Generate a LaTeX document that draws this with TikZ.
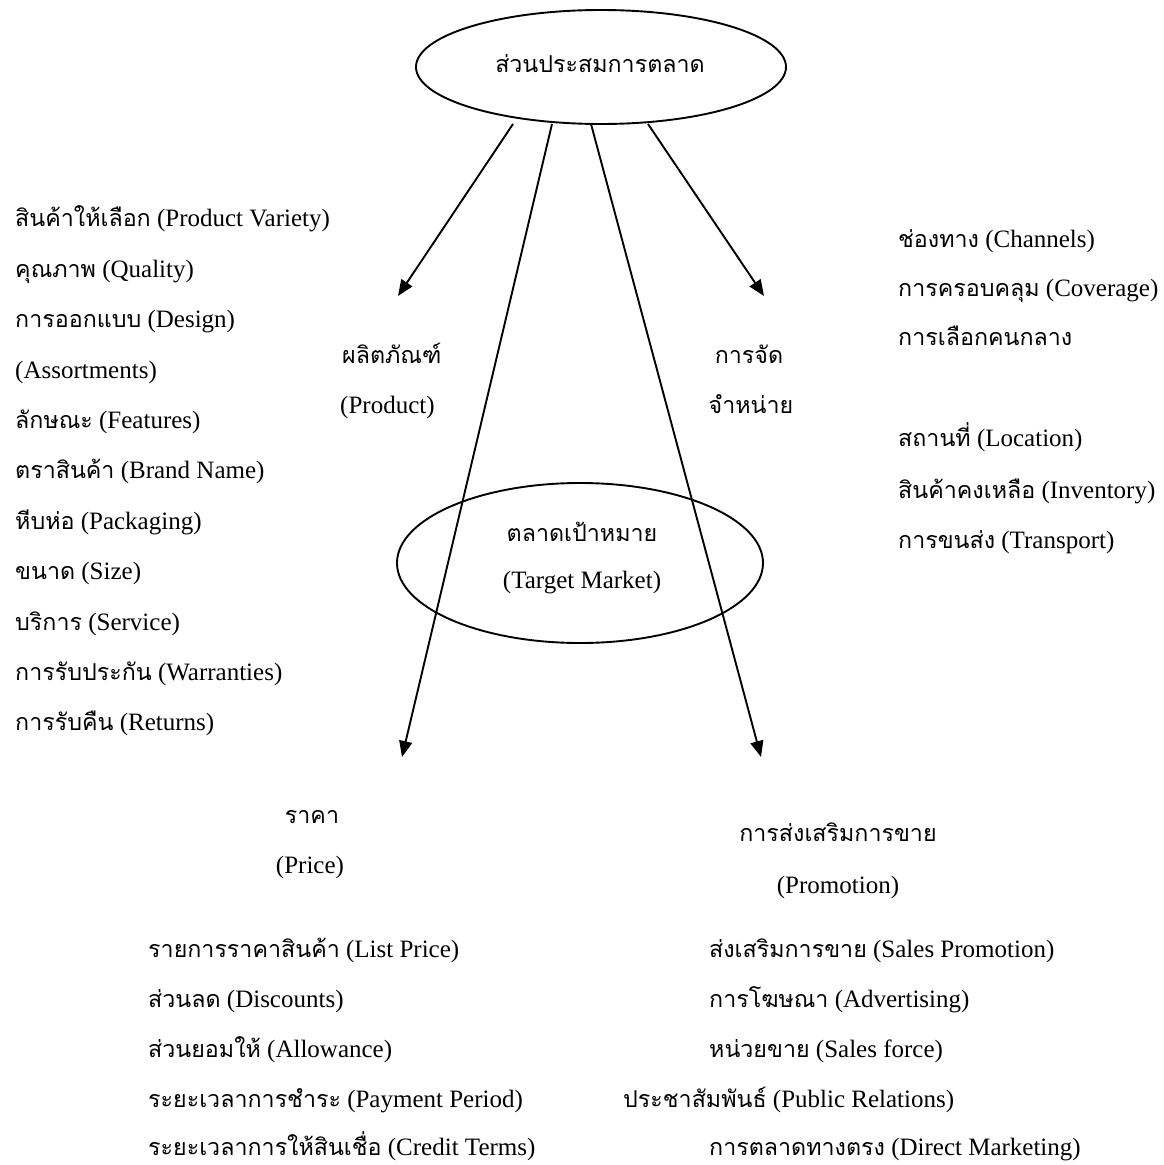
\documentclass[tikz,border=0pt]{standalone}
\usepackage{fontspec}
\setmainfont{Liberation Serif}
\newfontfamily\thaifont[Script=Thai,Scale=0.93]{Loma}
\newcommand{\T}[1]{{\thaifont #1}}
\usetikzlibrary{shapes.geometric,arrows.meta}
\begin{document}
\begin{tikzpicture}[x=1pt,y=-1pt,
  txt/.style={inner sep=0pt,font=\fontsize{25}{30}\selectfont},
  lft/.style={txt,anchor=base west},
  ctr/.style={txt,anchor=base},
  oval/.style={draw,line width=1.9pt,ellipse,inner sep=0pt},
  arr/.style={line width=1.9pt,-{Triangle[length=16pt,width=13pt]}}]
\useasboundingbox (0,0) rectangle (1163,1165);
% ellipses
\node[oval,minimum width=370pt,minimum height=114pt] (mix) at (601,67) {};
\node[ctr] (mixt) at (600,72) {\T{ส่วนประสมการตลาด}};
\node[oval,minimum width=366pt,minimum height=160pt] (tm) at (580,563) {};
\node[ctr] (tm1) at (582,541) {\T{ตลาดเป้าหมาย}};
\node[ctr] (tm2) at (582,588) {(Target Market)};
% arrow coordinates
\coordinate (s1) at (513,124); \coordinate (e1) at (398,296);
\coordinate (s2) at (552,124); \coordinate (e2) at (402,757);
\coordinate (s3) at (591,124); \coordinate (e3) at (761,757);
\coordinate (s4) at (648,124); \coordinate (e4) at (764,296);
\draw[arr] (s1) -- (e1);
\draw[arr] (s2) -- (e2);
\draw[arr] (s3) -- (e3);
\draw[arr] (s4) -- (e4);
% product
\node[lft] (prod1) at (342,363) {\T{ผลิตภัณฑ์}};
\node[lft] (prod2) at (340,413) {(Product)};
\node[ctr] (pl1) at (749,363) {\T{การจัด}};
\node[ctr] (pl2) at (751,413) {\T{จำหน่าย}};
% left list
\node[lft] (a1) at (15,226) {\T{สินค้าให้เลือก} (Product Variety)};
\node[lft] (a2) at (15,277) {\T{คุณภาพ} (Quality)};
\node[lft] (a3) at (15,327) {\T{การออกแบบ} (Design)};
\node[lft] (a4) at (15,378) {(Assortments)};
\node[lft] (a5) at (15,428) {\T{ลักษณะ} (Features)};
\node[lft] (a6) at (15,478) {\T{ตราสินค้า} (Brand Name)};
\node[lft] (a7) at (15,529) {\T{หีบห่อ} (Packaging)};
\node[lft] (a8) at (15,579) {\T{ขนาด} (Size)};
\node[lft] (a9) at (15,630) {\T{บริการ} (Service)};
\node[lft] (a10) at (15,680) {\T{การรับประกัน} (Warranties)};
\node[lft] (a11) at (15,730) {\T{การรับคืน} (Returns)};
% right list
\node[lft] (b1) at (898,247) {\T{ช่องทาง} (Channels)};
\node[lft] (b2) at (898,296) {\T{การครอบคลุม} (Coverage)};
\node[lft] (b3) at (898,345) {\T{การเลือกคนกลาง}};
\node[lft] (b4) at (898,446) {\T{สถานที่} (Location)};
\node[lft] (b5) at (898,498) {\T{สินค้าคงเหลือ} (Inventory)};
\node[lft] (b6) at (898,548) {\T{การขนส่ง} (Transport)};
% price
\node[ctr] (pr1) at (312,823) {\T{ราคา}};
\node[ctr] (pr2) at (310,873) {(Price)};
\node[lft] (c1) at (148,957) {\T{รายการราคาสินค้า} (List Price)};
\node[lft] (c2) at (148,1007) {\T{ส่วนลด} (Discounts)};
\node[lft] (c3) at (148,1057) {\T{ส่วนยอมให้} (Allowance)};
\node[lft] (c4) at (148,1107) {\T{ระยะเวลาการชำระ} (Payment Period)};
\node[lft] (c5) at (148,1155) {\T{ระยะเวลาการให้สินเชื่อ} (Credit Terms)};
% promotion
\node[ctr] (pm1) at (838,841) {\T{การส่งเสริมการขาย}};
\node[ctr] (pm2) at (838,893) {(Promotion)};
\node[lft] (d1) at (709,957) {\T{ส่งเสริมการขาย} (Sales Promotion)};
\node[lft] (d2) at (709,1007) {\T{การโฆษณา} (Advertising)};
\node[lft] (d3) at (709,1057) {\T{หน่วยขาย} (Sales force)};
\node[lft] (d4) at (623,1107) {\T{ประชาสัมพันธ์} (Public Relations)};
\node[lft] (d5) at (709,1155) {\T{การตลาดทางตรง} (Direct Marketing)};
\end{tikzpicture}
\end{document}
